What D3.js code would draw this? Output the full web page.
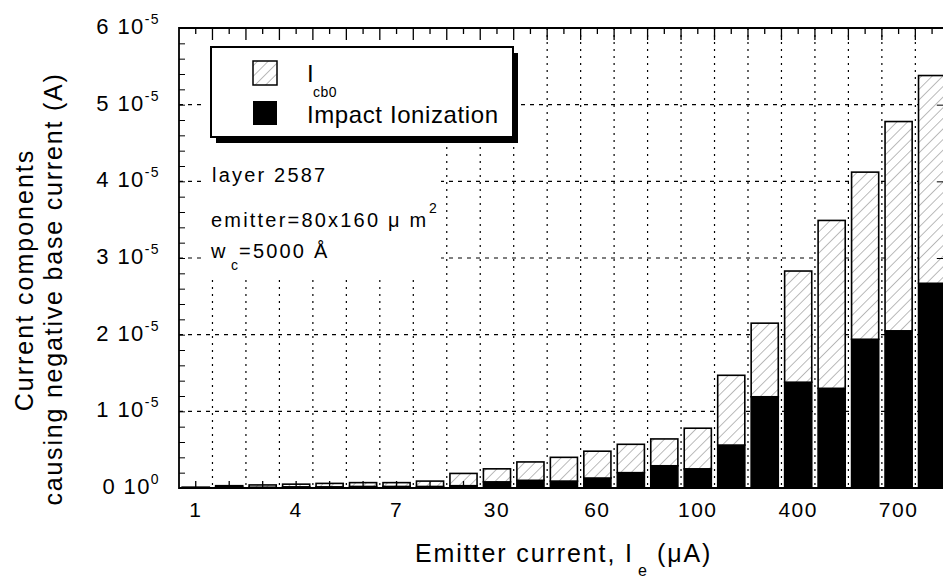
<!DOCTYPE html>
<html>
<head>
<meta charset="utf-8">
<script src="https://cdn.jsdelivr.net/npm/d3@7"></script>
<style>
body { margin: 0; background: #fff; overflow: hidden; }
text { font-family: "Liberation Sans", Arial, sans-serif; fill: #000; }
</style>
</head>
<body>
<script>
// emitter current categories (uA), one bar each; only every third is labelled
const categories = ["1", "2", "3", "4", "5", "6", "7", "10", "20", "30", "40", "50", "60", "70", "80", "100", "200", "300", "400", "500", "600", "700", "800"];
const tickLabels = ["1", "4", "7", "30", "60", "100", "400", "700"];

// stacked components, in units of 1e-5 A
const impactIonization = [0.005, 0.01, 0.01, 0.015, 0.015, 0.02, 0.02, 0.02, 0.03, 0.08, 0.10, 0.09, 0.13, 0.20, 0.29, 0.25, 0.56, 1.19, 1.38, 1.30, 1.94, 2.05, 2.67];
const icb0 = [0.005, 0.02, 0.03, 0.035, 0.045, 0.05, 0.05, 0.07, 0.16, 0.17, 0.24, 0.31, 0.35, 0.37, 0.35, 0.53, 0.91, 0.96, 1.45, 2.19, 2.18, 2.73, 2.71];

const yTickValues = [0, 1, 2, 3, 4, 5, 6];
const yTickExponent = ["0", "-5", "-5", "-5", "-5", "-5", "-5"];

var width = 943, height = 578;
var plotLeft = 179, plotTop = 28, plotBottom = 488;
var cell = 33.47;
// the plot runs past the right edge of the picture, like the scan
var plotRight = plotLeft + cell * categories.length;

var svg = d3.select("body").append("svg")
    .attr("width", width)
    .attr("height", height);

// hatch fill for Icb0
var pat = svg.append("defs").append("pattern")
    .attr("id", "hatch")
    .attr("patternUnits", "userSpaceOnUse")
    .attr("width", 7.5).attr("height", 7.5)
    .attr("patternTransform", "rotate(45)");
pat.append("rect").attr("width", 7.5).attr("height", 7.5).attr("fill", "#fff");
pat.append("line")
    .attr("x1", 0).attr("y1", 0).attr("x2", 0).attr("y2", 7.5)
    .attr("stroke", "#777").attr("stroke-width", 1);

var x = d3.scaleBand()
    .domain(categories)
    .range([plotLeft, plotRight])
    .paddingInner(0.19)
    .paddingOuter(0.095);

var y = d3.scaleLinear()
    .domain([0, 6])
    .range([plotBottom, plotTop]);

var step = x.step();
var bounds = d3.range(1, categories.length).map(k => plotLeft + k * step);
var centers = categories.map(c => x(c) + x.bandwidth() / 2);

// dashed grid
svg.append("g").selectAll("line").data(bounds).join("line")
    .attr("x1", d => d).attr("x2", d => d)
    .attr("y1", plotTop).attr("y2", plotBottom)
    .attr("stroke", "#000").attr("stroke-width", 1.2)
    .attr("stroke-dasharray", "2,5");

svg.append("g").selectAll("line").data(yTickValues.slice(1, -1)).join("line")
    .attr("x1", plotLeft).attr("x2", plotRight)
    .attr("y1", d => y(d)).attr("y2", d => y(d))
    .attr("stroke", "#000").attr("stroke-width", 1.2)
    .attr("stroke-dasharray", "4,5");

// blank patch behind legend and notes (grid is cut there in the scan)
svg.append("rect").attr("x", 205).attr("y", plotTop + 1).attr("width", 316).attr("height", 116).attr("fill", "#fff");
svg.append("rect").attr("x", 205).attr("y", 140).attr("width", 236).attr("height", 137).attr("fill", "#fff");

// stacked bars
var table = categories.map((c, i) => ({ cat: c, impact: impactIonization[i], icb0: icb0[i] }));
var series = d3.stack().keys(["impact", "icb0"])(table);

svg.append("g").selectAll("g").data(series).join("g")
    .attr("fill", d => d.key == "impact" ? "#000" : "url(#hatch)")
    .selectAll("rect").data(d => d).join("rect")
    .attr("x", d => x(d.data.cat))
    .attr("y", d => y(d[1]))
    .attr("width", x.bandwidth())
    .attr("height", d => y(d[0]) - y(d[1]))
    .attr("stroke", "#000")
    .attr("stroke-width", 1.6);

// axes: ticks point inward on all four sides
svg.append("g")
    .attr("transform", `translate(${plotLeft},0)`)
    .call(d3.axisRight(y).tickValues(d3.range(0, 6.01, 0.2)).tickSize(6).tickFormat(""))
    .call(g => g.select(".domain").remove());
svg.append("g")
    .attr("transform", `translate(${plotRight},0)`)
    .call(d3.axisLeft(y).tickValues(yTickValues).tickSize(12).tickFormat(""))
    .call(g => g.select(".domain").remove());

var ticks = svg.append("g").attr("stroke", "#000").attr("stroke-width", 1.3);
ticks.selectAll(".tmaj").data(bounds).join("line").attr("class", "tmaj")
    .attr("x1", d => d).attr("x2", d => d).attr("y1", plotTop).attr("y2", plotTop + 12);
ticks.selectAll(".tmin").data(centers).join("line").attr("class", "tmin")
    .attr("x1", d => d).attr("x2", d => d).attr("y1", plotTop).attr("y2", plotTop + 6);
ticks.selectAll(".bmin").data(centers).join("line").attr("class", "bmin")
    .attr("x1", d => d).attr("x2", d => d).attr("y1", plotBottom).attr("y2", plotBottom - 7);

svg.append("path")
    .attr("d", `M${plotRight},${plotTop}H${plotLeft}V${plotBottom}H${plotRight}`)
    .attr("fill", "none").attr("stroke", "#000").attr("stroke-width", 1.8);

// y tick labels  "n 10^-5"
var yl = svg.append("g").selectAll("text").data(yTickValues).join("text")
    .attr("x", 160)
    .attr("y", d => y(d) + 6)
    .attr("text-anchor", "end")
    .style("font-size", "22px")
    .style("letter-spacing", "1.4px");
yl.append("tspan").text(d => d + " 10");
yl.append("tspan")
    .attr("dy", -10)
    .style("font-size", "14px")
    .text((d, i) => yTickExponent[i]);

// x tick labels
svg.append("g").selectAll("text").data(tickLabels).join("text")
    .attr("x", d => x(d) + x.bandwidth() / 2)
    .attr("y", 517)
    .attr("text-anchor", "middle")
    .style("font-size", "21px")
    .style("letter-spacing", "1.5px")
    .text(d => d);

// axis titles
svg.append("text")
    .attr("x", 415).attr("y", 562)
    .style("font-size", "25px").style("letter-spacing", "1.9px")
    .text("Emitter current, I");
svg.append("text")
    .attr("x", 638).attr("y", 576)
    .style("font-size", "16px")
    .text("e");
svg.append("text")
    .attr("x", 657).attr("y", 562)
    .style("font-size", "25px").style("letter-spacing", "1.9px")
    .text("(\u03bcA)");

svg.append("text")
    .attr("transform", "translate(33,280) rotate(-90)")
    .attr("text-anchor", "middle")
    .style("font-size", "25px").style("letter-spacing", "2px")
    .text("Current components");
svg.append("text")
    .attr("transform", "translate(62,289) rotate(-90)")
    .attr("text-anchor", "middle")
    .style("font-size", "25px").style("letter-spacing", "1.8px")
    .text("causing negative base current (A)");

// legend with drop shadow
var lg = svg.append("g");
lg.append("rect").attr("x", 216).attr("y", 53).attr("width", 302).attr("height", 90).attr("fill", "#000");
lg.append("rect").attr("x", 211).attr("y", 47).attr("width", 302).attr("height", 90)
    .attr("fill", "#fff").attr("stroke", "#000").attr("stroke-width", 2);
lg.append("rect").attr("x", 253).attr("y", 61).attr("width", 24).attr("height", 24)
    .attr("fill", "url(#hatch)").attr("stroke", "#000").attr("stroke-width", 1.5);
lg.append("rect").attr("x", 253).attr("y", 101).attr("width", 24).attr("height", 24)
    .attr("fill", "#000");
lg.append("text").attr("x", 307).attr("y", 82).style("font-size", "24px").text("I");
lg.append("text").attr("x", 313).attr("y", 97).style("font-size", "14px").style("letter-spacing", "0.5px").text("cb0");
lg.append("text").attr("x", 307).attr("y", 123).style("font-size", "24px").style("letter-spacing", "0.6px").text("Impact Ionization");

// notes
var notes = svg.append("g").style("font-size", "20px").style("letter-spacing", "2.2px");
notes.append("text").attr("x", 212).attr("y", 182).text("layer 2587");
notes.append("text").attr("x", 211).attr("y", 227).text("emitter=80x160 \u03bc m");
notes.append("text").attr("x", 429).attr("y", 213).style("font-size", "14px").text("2");
notes.append("text").attr("x", 211).attr("y", 258).text("w");
notes.append("text").attr("x", 231).attr("y", 270).style("font-size", "14px").text("c");
notes.append("text").attr("x", 239).attr("y", 258).text("=5000 \u00c5");
</script>
</body>
</html>
